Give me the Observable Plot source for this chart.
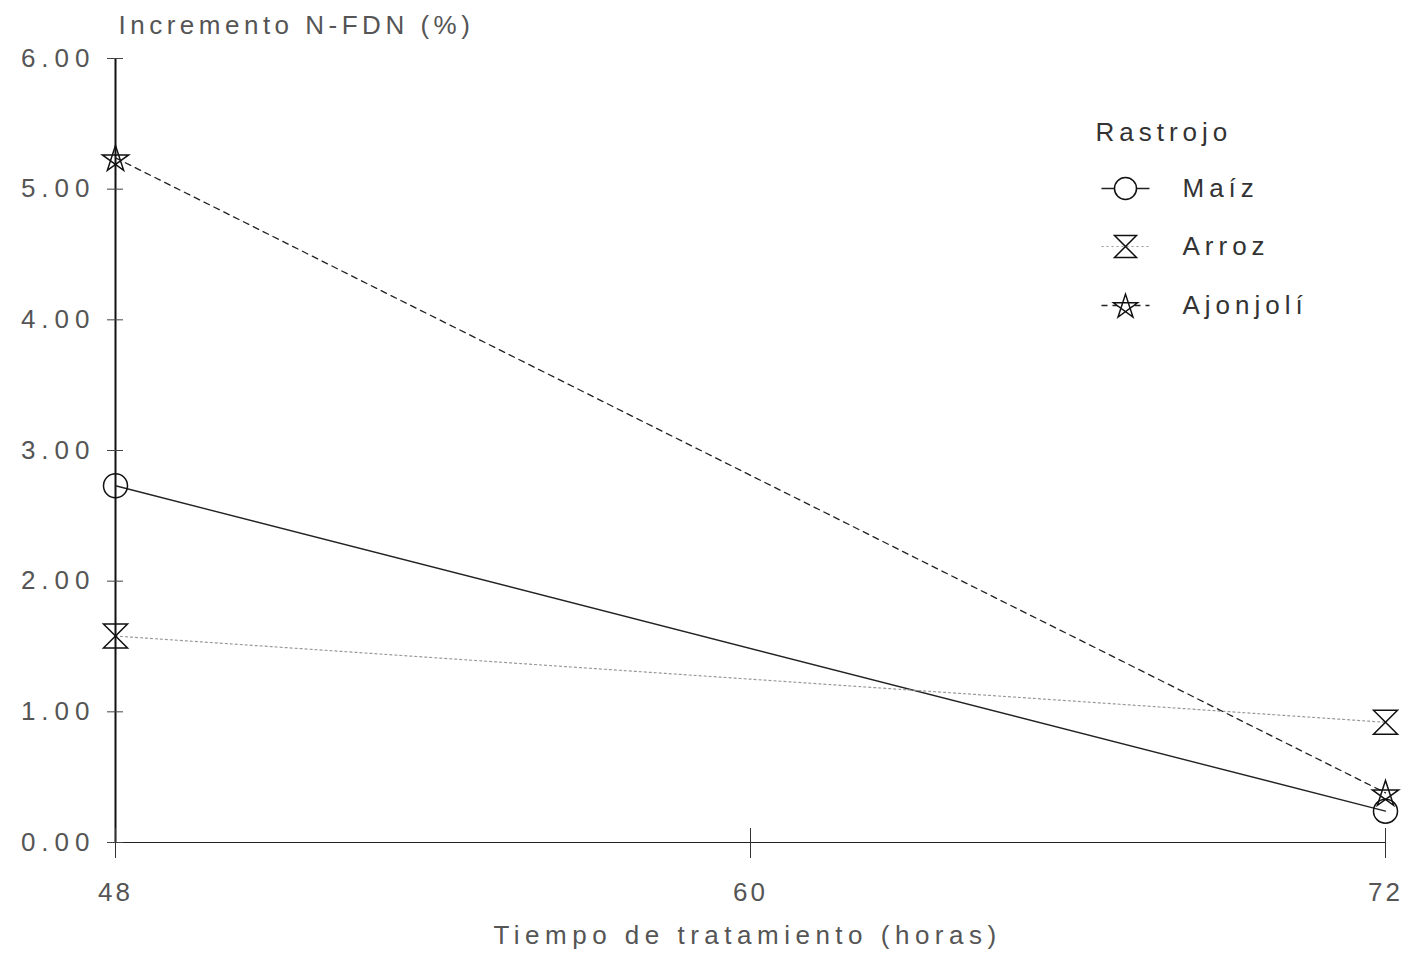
<!DOCTYPE html>
<html><head><meta charset="utf-8">
<script src="https://cdn.jsdelivr.net/npm/d3@7"></script>
<script src="https://cdn.jsdelivr.net/npm/@observablehq/plot@0.6"></script>
<style>
body{margin:0;background:#fff}
g[aria-label="y-axis tick label"] text{letter-spacing:6px}
g[aria-label="x-axis tick label"] text{letter-spacing:3px}
</style>
</head><body><div id="chart"></div>
<script>
const hours = [48, 72];
const xTicks = [48, 60, 72];
const yTicks = [0, 1, 2, 3, 4, 5, 6];
const maiz = [2.73, 0.24];
const arroz = [1.58, 0.92];
const ajonjoli = [5.24, 0.38];
const seriesNames = ["Maíz", "Arroz", "Ajonjolí"];
const yTitle = "Incremento N-FDN (%)";
const xTitle = "Tiempo de tratamiento (horas)";
const legendTitle = "Rastrojo";

const rad = s => Math.sqrt(s / Math.PI);
const hourglass = {draw(c, s){const r = rad(s); c.moveTo(-r,-r); c.lineTo(r,-r); c.lineTo(-r,r); c.lineTo(r,r); c.closePath();}};
const pentagram = {draw(c, s){const r = rad(s)*1.15; const pts = [0,2,4,1,3].map(k => {const a = -Math.PI/2 + k*2*Math.PI/5; return [r*Math.cos(a), r*Math.sin(a)+r*0.1];});
  c.moveTo(...pts[0]); for (let i=1;i<5;i++) c.lineTo(...pts[i]); c.closePath();}};
const hline = {draw(c, s){const r = rad(s); c.moveTo(-r,0); c.lineTo(r,0);}};

const mk = (vals, name) => hours.map((h,i) => ({h, v: vals[i], name}));
const dM = mk(maiz, seriesNames[0]);
const dA = mk(arroz, seriesNames[1]);
const dJ = mk(ajonjoli, seriesNames[2]);

const font = "'Liberation Sans', Arial, sans-serif";
const txt = "#555";
const styles = [
  {data: dM, sym: "circle", dash: null, stroke: "#222", sw: 1.4},
  {data: dA, sym: hourglass, dash: "2,3", stroke: "#999", sw: 1.2},
  {data: dJ, sym: pentagram, dash: "6,5", stroke: "#222", sw: 1.3}
];
const legendY = [188, 246, 305];

const marks = [
  Plot.ruleY([0], {stroke: "#222", strokeWidth: 1.2}),
  Plot.ruleX([48], {stroke: "#111", strokeWidth: 2}),
  Plot.axisY({ticks: yTicks, tickFormat: d3.format(".2f"), tickSize: 16, dx: 8, tickPadding: 12, fontSize: 26, fill: txt, stroke: null, label: null}),
  Plot.axisY({ticks: yTicks, tickSize: 16, dx: 8, tickFormat: () => "", stroke: "#444", label: null}),
  Plot.axisX({ticks: xTicks, tickSize: 30, dy: -14, tickPadding: 24, fontSize: 26, fill: txt, label: null}),
  Plot.text([yTitle], {frameAnchor: "top-left", dx: 3, dy: -33, lineAnchor: "middle", fontSize: 26, fill: txt, textAnchor: "start", fontFamily: font}),
  Plot.text([xTitle], {frameAnchor: "bottom", dx: -3, dy: 93, lineAnchor: "middle", fontSize: 26, fill: txt, fontFamily: font}),
  Plot.text([legendTitle], {frameAnchor: "top-left", dx: 980, dy: 74, lineAnchor: "middle", fontSize: 26, fill: "#333", textAnchor: "start", fontFamily: font})
];
styles.forEach((s, i) => {
  marks.push(Plot.line(s.data, {x: "h", y: "v", stroke: s.stroke, strokeWidth: s.sw, strokeDasharray: s.dash}));
  marks.push(Plot.dot(s.data, {x: "h", y: "v", symbol: s.sym, r: 12, stroke: "#111", strokeWidth: 1.5, fill: "none"}));
  marks.push(Plot.dot([0], {frameAnchor: "top-left", dx: 1010, dy: legendY[i]-58, symbol: hline, r: 24, stroke: s.stroke, strokeWidth: s.sw, strokeDasharray: s.dash}));
  marks.push(Plot.dot([0], {frameAnchor: "top-left", dx: 1010, dy: legendY[i]-58, symbol: s.sym, r: 11, stroke: "#111", strokeWidth: 1.5, fill: "white"}));
  marks.push(Plot.text([seriesNames[i]], {frameAnchor: "top-left", dx: 1067, dy: legendY[i]-58, lineAnchor: "middle", fontSize: 26, fill: "#333", textAnchor: "start", fontFamily: font}));
});

const chart = Plot.plot({
  width: 1408, height: 958,
  marginLeft: 115, marginRight: 23, marginTop: 58, marginBottom: 116,
  x: {domain: [48, 72], axis: null},
  y: {domain: [0, 6], axis: null},
  style: {fontFamily: font, background: "white", color: "#333"},
  marks
});
const spacing = new Map([[yTitle, "4.5px"], [xTitle, "5.5px"], [legendTitle, "5px"]]);
seriesNames.forEach(n => spacing.set(n, "5px"));
d3.select(chart).selectAll("text").each(function(){
  const t = this.textContent;
  if (spacing.has(t)) this.style.letterSpacing = spacing.get(t);
});
document.getElementById("chart").appendChild(chart);
</script></body></html>
